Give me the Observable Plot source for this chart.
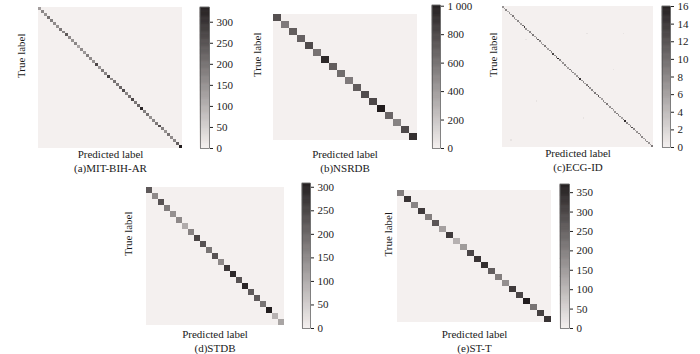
<!DOCTYPE html>
<html><head><meta charset="utf-8">
<script src="https://cdn.jsdelivr.net/npm/d3@7"></script>
<script src="https://cdn.jsdelivr.net/npm/@observablehq/plot@0.6"></script>
<style>
html,body{margin:0;padding:0;background:#fff;}
#chart{position:relative;width:700px;height:354px;overflow:hidden;font-family:"Liberation Serif","DejaVu Serif",serif;}
#chart > svg{position:absolute;margin:0;overflow:visible;}
</style></head><body><div id="chart"></div>
<script>
// ---- data: diagonal counts of each confusion matrix ----
const mitLabel = "(a)MIT-BIH-AR";
const mitDiag = [130,170,150,200,180,160,150,190,170,240,160,150,170,120,160,140,180,160,150,270,140,190,170,280,160,200,190,220,260,170,200,270,190,220,320,180,200,150,170,190,260,180,150,200,160,170,230,335];
const mitTicks = [0,50,100,150,200,250,300];
const mitTickLabels = ["0","50","100","150","200","250","300"];

const nsrLabel = "(b)NSRDB";
const nsrDiag = [760,560,700,680,790,600,950,700,630,560,700,780,800,1005,660,520,790,920];
const nsrTicks = [0,200,400,600,800,1000];
const nsrTickLabels = ["0","200","400","600","800","1 000"];

const ecgLabel = "(c)ECG-ID";
const ecgDiag = [7,6,8,5,7,6,9,7,6,8, 7,6,10,14,7,6,8,7,9,6, 7,12,8,6,7,9,7,6,8,8, 13,7,9,16,8,6,7,8,7,6, 9,7,8,6,7,10,14,7,8,6, 9,13,7,8,6,9,8,12,7,6, 8,7,9,6,7,8,6,7,9,8, 7,6,10,15,8,7,7,13,8,6, 7,9,7,8,6,7,8,7,6,9];
const ecgOffRow = [21,17,17,71,85,40,60];
const ecgOffCol = [14,50,72,48,5,66,20];
const ecgOffVal = [1,1,1,1,1,1,1];
const ecgTicks = [0,2,4,6,8,10,12,14,16];
const ecgTickLabels = ["0","2","4","6","8","10","12","14","16"];

const stdbLabel = "(d)STDB";
const stdbDiag = [220,150,230,170,140,150,100,160,250,230,180,230,150,270,290,230,295,220,220,180,308,90,110];
const stdbTicks = [0,50,100,150,200,250,300];
const stdbTickLabels = ["0","50","100","150","200","250","300"];

const sttLabel = "(e)ST-T";
const sttDiag = [200,330,190,320,200,270,140,320,110,150,300,330,340,260,200,170,320,300,371,220,310,330];
const sttTicks = [0,50,100,150,200,250,300,350];
const sttTickLabels = ["0","50","100","150","200","250","300","350"];

const xLabel = "Predicted label";
const yLabel = "True label";

// ---- layout ----
const FONT = "Liberation Serif, DejaVu Serif, serif";
const ML = 22, MR = 2, MT = 2, MB = 32;
const chart = document.getElementById("chart");

function colorOpts(max) {
  return {type: "linear", domain: [0, max], range: ["#f4f0ef", "#221d1e"], interpolate: "rgb"};
}

function matrixPlot(diag, offR, offC, offV, caption, w, h) {
  const n = diag.length;
  const idx = d3.range(n);
  const cells = [];
  for (let i = 0; i < n; i++) for (let j = 0; j < n; j++) cells.push({r: i, c: j, v: i === j ? diag[i] : 0});
  offR.forEach((r, k) => { cells[r * n + offC[k]].v = offV[k]; });
  const max = d3.max(cells, d => d.v);
  return Plot.plot({
    width: w + ML + MR, height: h + MT + MB,
    marginLeft: ML, marginRight: MR, marginTop: MT, marginBottom: MB,
    x: {domain: idx, axis: null, padding: 0},
    y: {domain: idx, axis: null, padding: 0},
    color: colorOpts(max),
    style: {fontFamily: FONT, fontSize: "11px", background: "transparent", color: "#1a1a1a"},
    marks: [
      Plot.cell(cells, {x: "c", y: "r", fill: "v", inset: 0, shapeRendering: "crispEdges"}),
      Plot.text([xLabel], {text: d => d, frameAnchor: "bottom", dy: 9, fontSize: 11}),
      Plot.text([caption], {text: d => d, frameAnchor: "bottom", dy: 23, fontSize: 11}),
      Plot.text([yLabel], {text: d => d, frameAnchor: "left", dx: -9, rotate: -90, fontSize: 11})
    ]
  });
}

function colorbarPlot(max, ticks, tickLabels, bw, h) {
  const N = 160;
  const step = max / N;
  const stops = d3.range(N).map(i => i * step);
  const lab = new Map(ticks.map((t, i) => [t, tickLabels[i]]));
  return Plot.plot({
    width: bw + 34, height: h + 10,
    marginLeft: 0, marginRight: 34, marginTop: 5, marginBottom: 5,
    x: {domain: [0, 1], axis: null},
    y: {domain: [0, max], axis: "right", ticks: ticks, tickFormat: d => lab.get(d), tickSize: 3, tickPadding: 4, label: null},
    color: colorOpts(max),
    style: {fontFamily: FONT, fontSize: "11px", background: "transparent", color: "#222"},
    marks: [
      Plot.rect(stops, {x1: 0, x2: 1, y1: d => d, y2: d => d + step, fill: d => d + step / 2, stroke: d => d + step / 2, strokeWidth: 0.6}),
      Plot.frame({stroke: "#555", strokeWidth: 0.7})
    ]
  });
}

function place(svg, left, top) {
  svg.style.left = left + "px";
  svg.style.top = top + "px";
  chart.appendChild(svg);
}

const panels = [
  {diag: mitDiag, offR: [], offC: [], offV: [], cap: mitLabel, ticks: mitTicks, tl: mitTickLabels, x: 30, y: 7, w: 160, h: 141, cbx: 200, cbw: 9},
  {diag: nsrDiag, offR: [], offC: [], offV: [], cap: nsrLabel, ticks: nsrTicks, tl: nsrTickLabels, x: 266, y: 5, w: 157, h: 143, cbx: 432, cbw: 8},
  {diag: ecgDiag, offR: ecgOffRow, offC: ecgOffCol, offV: ecgOffVal, cap: ecgLabel, ticks: ecgTicks, tl: ecgTickLabels, x: 502, y: 6, w: 151, h: 141, cbx: 662, cbw: 8},
  {diag: stdbDiag, offR: [], offC: [], offV: [], cap: stdbLabel, ticks: stdbTicks, tl: stdbTickLabels, x: 137, y: 183, w: 155, h: 145, cbx: 302, cbw: 8},
  {diag: sttDiag, offR: [], offC: [], offV: [], cap: sttLabel, ticks: sttTicks, tl: sttTickLabels, x: 397, y: 184, w: 154, h: 144, cbx: 560, cbw: 9}
];

for (const p of panels) {
  const max = d3.max(p.diag);
  place(matrixPlot(p.diag, p.offR, p.offC, p.offV, p.cap, p.w, p.h), p.x - ML, p.y - MT);
  place(colorbarPlot(max, p.ticks, p.tl, p.cbw, p.h), p.cbx, p.y - 5);
}
</script></body></html>
